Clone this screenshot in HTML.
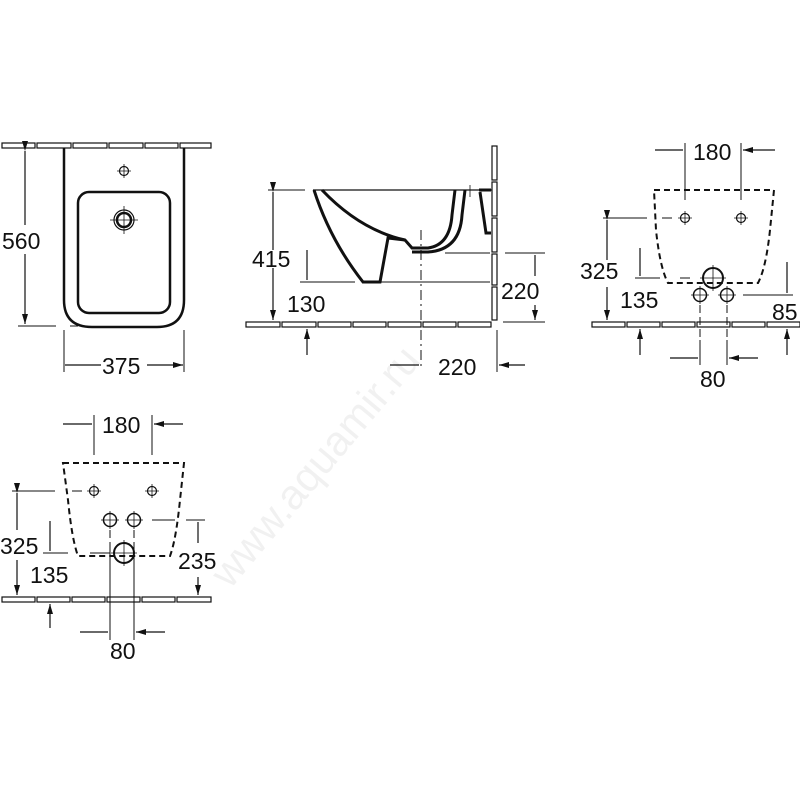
<!DOCTYPE html>
<html><head><meta charset="utf-8"><style>body{margin:0;background:#fff}svg{display:block}text{font-family:"Liberation Sans",sans-serif;font-size:23px;fill:#111}</style></head><body>
<svg width="800" height="800" viewBox="0 0 800 800" xmlns="http://www.w3.org/2000/svg">
<defs>
<marker id="a" viewBox="0 0 10 6" refX="10" refY="3" markerWidth="12" markerHeight="6" markerUnits="userSpaceOnUse" orient="auto"><path d="M0,0L10,3L0,6z" fill="#111"/></marker>
<g id="sh"><circle r="4.5" fill="none" stroke="#111" stroke-width="1.2"/><path d="M-7,0H7M0,-7V7" stroke="#111" stroke-width="0.8"/></g>
<g id="md"><circle r="6.5" fill="none" stroke="#111" stroke-width="1.5"/><path d="M-9,0H9M0,-9V9" stroke="#111" stroke-width="0.8"/></g>
<g id="big"><circle r="10" fill="none" stroke="#111" stroke-width="2"/><path d="M-13,0H13M0,-13V13" stroke="#111" stroke-width="0.8"/></g>
</defs>
<g fill="none" stroke="#111" stroke-width="1">
<g fill="#fff" stroke-width="1.2"><rect x="2" y="143" width="33" height="5"/><rect x="37" y="143" width="34" height="5"/><rect x="73" y="143" width="34" height="5"/><rect x="109" y="143" width="34" height="5"/><rect x="145" y="143" width="33" height="5"/><rect x="180" y="143" width="31" height="5"/></g>
<path d="M64,148V300Q64,327 92,327H157Q184,327 184,300V148" stroke-width="2.5"/>
<rect x="78" y="192" width="92" height="121" rx="11" stroke-width="2.5"/>
<use href="#sh" x="124" y="171"/>
<circle cx="124" cy="220" r="10" stroke-width="1.2"/><circle cx="124" cy="220" r="7" stroke-width="2.5"/><path d="M110,220H138M124,206V234" stroke-width="0.8"/>
<path d="M25,151V225M25,254V324" marker-start="url(#a)" marker-end="url(#a)" stroke-width="1.2"/>
<path d="M18,326H56M70,326H78"/>
<path d="M64,330V372M184,330V372"/>
<path d="M101,365H65M147,365H183" marker-end="url(#a)" stroke-width="1.2"/>
<g fill="#fff" stroke-width="1.2"><rect x="246" y="322" width="34" height="5"/><rect x="282" y="322" width="34" height="5"/><rect x="318" y="322" width="33" height="5"/><rect x="353" y="322" width="33" height="5"/><rect x="388" y="322" width="33" height="5"/><rect x="423" y="322" width="33" height="5"/><rect x="458" y="322" width="33" height="5"/>
<rect x="492" y="146" width="5" height="34"/><rect x="492" y="182" width="5" height="34"/><rect x="492" y="218" width="5" height="34"/><rect x="492" y="254" width="5" height="31"/><rect x="492" y="287" width="5" height="33"/></g>
<path d="M313,190H492" stroke-width="1.2"/>
<path d="M314,190Q330,240 363,282H380L388,238L405,240L412,248H428Q450,245 452,215L455,190" stroke-width="3"/>
<path d="M322,190Q360,230 405,240" stroke-width="3"/>
<path d="M412,252H428Q460,250 462,215L465,190" stroke-width="3"/>
<path d="M479,190H491M480,192L486,233H491" stroke-width="3"/>
<path d="M470,185V197M465,190H475" stroke-width="0.8"/>
<path d="M273,192V250M273,268V320" marker-start="url(#a)" marker-end="url(#a)" stroke-width="1.2"/>
<path d="M268,190H305"/>
<path d="M300,282H355M380,282H490"/>
<path d="M307,250V280M307,355V329" marker-end="url(#a)" stroke-width="1.2"/>
<path d="M421,230V370" stroke-dasharray="10,4,2,4"/>
<path d="M390,365H419M525,365H499" marker-end="url(#a)" stroke-width="1.2"/>
<path d="M497,330V372"/>
<path d="M445,253H490M505,253H545M503,322H545"/>
<path d="M535,276V255M535,305V320" marker-end="url(#a)" stroke-width="1.2"/>
<g fill="#fff" stroke-width="1.2"><rect x="592" y="322" width="33" height="5"/><rect x="627" y="322" width="33" height="5"/><rect x="662" y="322" width="33" height="5"/><rect x="697" y="322" width="33" height="5"/><rect x="732" y="322" width="33" height="5"/><rect x="767" y="322" width="33" height="5"/></g>
<path d="M654,190H774L770,230Q766,268 758,283H668Q660,268 656,230Z" stroke-width="2" stroke-dasharray="6,4"/>
<use href="#sh" x="685" y="218"/><use href="#sh" x="741" y="218"/>
<use href="#big" x="713" y="278"/>
<use href="#md" x="700" y="295"/><use href="#md" x="727" y="295"/>
<path d="M685,143V200M741,143V200"/>
<path d="M655,150H683M775,150H743" marker-end="url(#a)" stroke-width="1.2"/>
<path d="M603,218H647M662,218H672"/>
<path d="M607,220V260M607,287V320" marker-start="url(#a)" marker-end="url(#a)" stroke-width="1.2"/>
<path d="M635,278H660M680,278H690"/>
<path d="M640,248V276M640,355V329" marker-end="url(#a)" stroke-width="1.2"/>
<path d="M743,295H793"/>
<path d="M787,262V293M787,355V329" marker-end="url(#a)" stroke-width="1.2"/>
<path d="M700,305V340M727,305V340" stroke-dasharray="8,4"/>
<path d="M700,340V365M727,340V365"/>
<path d="M670,358H698M758,358H729" marker-end="url(#a)" stroke-width="1.2"/>
<g fill="#fff" stroke-width="1.2"><rect x="2" y="597" width="33" height="5"/><rect x="37" y="597" width="33" height="5"/><rect x="72" y="597" width="33" height="5"/><rect x="107" y="597" width="33" height="5"/><rect x="142" y="597" width="33" height="5"/><rect x="177" y="597" width="34" height="5"/></g>
<path d="M63,463H184L180,500Q176,540 170,556H78Q72,540 68,500Z" stroke-width="2" stroke-dasharray="6,4"/>
<use href="#sh" x="94" y="491"/><use href="#sh" x="152" y="491"/>
<use href="#md" x="110" y="520"/><use href="#md" x="134" y="520"/>
<use href="#big" x="124" y="553"/>
<path d="M94,415V455M152,415V455"/>
<path d="M63,424H92M183,424H154" marker-end="url(#a)" stroke-width="1.2"/>
<path d="M12,491H55M72,491H82"/>
<path d="M17,493V530M17,560V595" marker-start="url(#a)" marker-end="url(#a)" stroke-width="1.2"/>
<path d="M43,553H68M90,553H110"/>
<path d="M50,521V551M50,628V604" marker-end="url(#a)" stroke-width="1.2"/>
<path d="M152,520H175M186,520H205"/>
<path d="M198,543V522M198,577V595" marker-end="url(#a)" stroke-width="1.2"/>
<path d="M110,530V545M134,530V545" stroke-dasharray="8,4"/>
<path d="M110,545V640M134,545V640"/>
<path d="M80,632H108M165,632H136" marker-end="url(#a)" stroke-width="1.2"/>
</g>
<g>
<text x="2" y="249">560</text>
<text x="102" y="374">375</text>
<text x="252" y="267">415</text>
<text x="287" y="312">130</text>
<text x="438" y="375">220</text>
<text x="501" y="299">220</text>
<text x="693" y="160">180</text>
<text x="580" y="279">325</text>
<text x="620" y="308">135</text>
<text x="772" y="320">85</text>
<text x="700" y="387">80</text>
<text x="102" y="433">180</text>
<text x="0" y="554">325</text>
<text x="30" y="583">135</text>
<text x="178" y="569">235</text>
<text x="110" y="659">80</text>
</g>
<text x="0" y="0" transform="translate(230,590) rotate(-50)" style="font-size:42px;fill:#000;opacity:0.05">www.aquamir.ru</text>
</svg>
</body></html>
